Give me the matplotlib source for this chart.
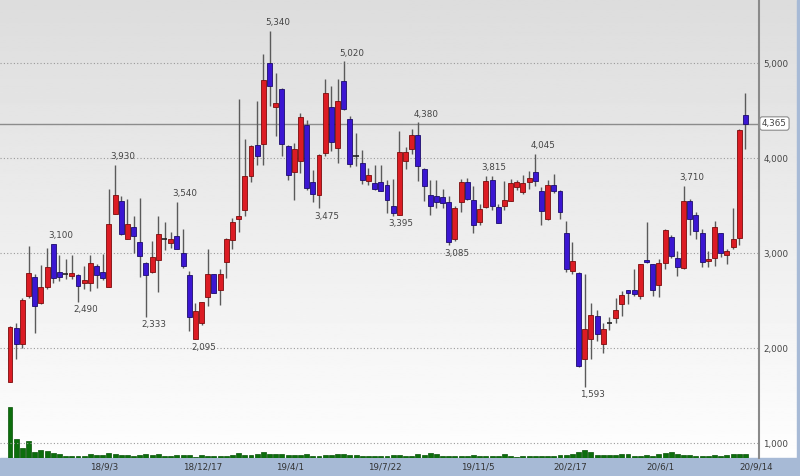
import matplotlib
matplotlib.use("Agg")
import matplotlib.pyplot as plt
from matplotlib.patches import Rectangle
import numpy as np

# weekly OHLC (oldest first)
opens = [1646, 2217, 2050, 2549, 2753, 2473, 2648, 3100, 2801, 2785,
         2764, 2774, 2690, 2690, 2864, 2806, 2648, 3418, 3547, 3152,
         3271, 3121, 2900, 2801, 2932, 3145, 3103, 3180, 2998, 2774,
         2095, 2270, 2543, 2777, 2612, 2910, 3134, 3355, 3460, 3810,
         4142, 4149, 5000, 4544, 4727, 4132, 3851, 3967, 4352, 3754,
         3610, 4055, 4538, 4108, 4814, 4415, 4020, 3950, 3757, 3740,
         3750, 3715, 3494, 3400, 3967, 4100, 4240, 3890, 3614, 3600,
         3589, 3540, 3145, 3540, 3746, 3565, 3330, 3488, 3775, 3484,
         3502, 3554, 3694, 3646, 3746, 3856, 3659, 3355, 3715, 3652,
         3208, 2812, 2795, 1885, 2095, 2340, 2042, 2263, 2315, 2462,
         2609, 2612, 2549, 2925, 2882, 2662, 2893, 3173, 2953, 2848,
         3554, 3407, 3215, 2917, 2953, 3208, 2977, 3064, 3163, 4457]
highs = [2230, 2270, 2532, 3080, 2785, 2872, 3060, 3100, 2977, 2942,
         2984, 2785, 2864, 2984, 2882, 2990, 3677, 3930, 3600, 3575,
         3397, 3583, 2905, 3131, 3390, 3330, 3221, 3540, 3250, 2812,
         2480, 2490, 3040, 2780, 2830, 3160, 3372, 4625, 4202, 4140,
         4604, 5094, 5340, 4895, 4735, 4140, 4160, 4475, 4405, 3872,
         4048, 4832, 4762, 4835, 5020, 4440, 4265, 4082, 3897, 3925,
         3925, 3775, 3782, 4282, 4118, 4307, 4380, 3895, 3775, 3767,
         3677, 3607, 3494, 3782, 3792, 3712, 3520, 3815, 3809, 3520,
         3757, 3782, 3775, 3820, 3862, 4045, 3698, 3775, 3835, 3662,
         3344, 3120, 2800, 2777, 2480, 2400, 2270, 2333, 2532, 2602,
         2615, 2830, 2890, 3326, 2890, 2935, 3250, 3187, 3022, 3710,
         3575, 3436, 3257, 3022, 3337, 3215, 3047, 3478, 4310, 4691]
lows = [1640, 1892, 2000, 2530, 2165, 2462, 2620, 2690, 2707, 2725,
        2725, 2490, 2620, 2602, 2638, 2717, 2640, 3410, 3197, 3145,
        3005, 2753, 2333, 2790, 2596, 3029, 3057, 3040, 2848, 2182,
        2095, 2242, 2444, 2578, 2455, 2743, 3040, 3226, 3389, 3746,
        3932, 3932, 4552, 4229, 4027, 3775, 3565, 3845, 3670, 3536,
        3475, 4020, 4072, 3950, 4510, 3904, 3915, 3733, 3722, 3662,
        3652, 3425, 3395, 3400, 3887, 4045, 3757, 3547, 3407, 3478,
        3478, 3085, 3127, 3431, 3565, 3215, 3302, 3478, 3460, 3313,
        3452, 3547, 3670, 3628, 3680, 3705, 3292, 3347, 3635, 3362,
        2801, 2777, 1800, 1593, 1885, 2077, 1948, 2192, 2263, 2340,
        2462, 2549, 2522, 2900, 2549, 2539, 2830, 2953, 2759, 2830,
        3197, 3152, 2854, 2854, 2864, 2963, 2890, 3047, 3082, 4097]
closes = [2224, 2050, 2504, 2791, 2448, 2648, 2854, 2738, 2749, 2785,
          2791, 2654, 2714, 2900, 2770, 2743, 3305, 3617, 3204, 3305,
          3180, 2974, 2774, 2963, 3204, 3145, 3152, 3047, 2864, 2329,
          2392, 2486, 2777, 2585, 2777, 3152, 3330, 3389, 3817, 4132,
          4019, 4825, 4762, 4586, 4149, 3820, 4097, 4433, 3688, 3628,
          4030, 4685, 4170, 4604, 4517, 3940, 4020, 3775, 3820, 3677,
          3659, 3565, 3425, 4061, 4061, 4240, 3922, 3704, 3502, 3536,
          3530, 3116, 3478, 3746, 3572, 3292, 3470, 3757, 3494, 3320,
          3557, 3740, 3750, 3740, 3793, 3764, 3449, 3715, 3659, 3436,
          2830, 2917, 1808, 2200, 2350, 2147, 2200, 2263, 2399, 2557,
          2578, 2567, 2882, 2910, 2609, 2893, 3242, 2970, 2858, 3554,
          3365, 3232, 2906, 2942, 3278, 2998, 3022, 3152, 4300, 4365]
volume = [507, 190, 97, 173, 57, 80, 73, 47, 40, 17,
          17, 17, 17, 37, 27, 30, 53, 37, 30, 27,
          20, 33, 37, 27, 37, 20, 20, 27, 30, 27,
          13, 33, 23, 23, 23, 23, 27, 53, 33, 27,
          37, 63, 43, 40, 37, 27, 30, 27, 37, 20,
          20, 27, 27, 43, 40, 33, 30, 23, 23, 20,
          20, 20, 27, 27, 20, 20, 43, 27, 50, 37,
          20, 23, 20, 20, 17, 27, 23, 23, 23, 23,
          43, 23, 10, 17, 17, 23, 20, 23, 23, 30,
          27, 40, 57, 80, 57, 30, 27, 27, 30, 37,
          37, 20, 23, 27, 23, 37, 50, 57, 40, 27,
          33, 23, 20, 23, 27, 20, 30, 37, 43, 43]

date_labels = ["18/9/3", "18/12/17", "19/4/1", "19/7/22",
               "19/11/5", "20/2/17", "20/6/1", "20/9/14"]
date_pos = [13, 28, 43, 58, 73, 88, 103, 118]

price_ticks = [1000, 2000, 3000, 4000, 5000]
hi_marks = [7, 17, 27, 42, 54, 66, 77, 85, 109]
lo_marks = [11, 22, 30, 50, 62, 71, 93]
last_price = 4365

n = len(opens)
x = np.arange(n)
o = np.array(opens); h = np.array(highs); l = np.array(lows); c = np.array(closes)

W, H = 800, 476
fig = plt.figure(figsize=(W / 100, H / 100), dpi=100)

# background gradient
bg = fig.add_axes([0, 0, 1, 1])
grad = np.linspace(0.865, 1.0, 256).reshape(-1, 1)
bg.imshow(grad, cmap="gray", vmin=0, vmax=1, aspect="auto", extent=[0, 1, 0, 1])
bg.add_patch(Rectangle((0, 0), 1, 18 / H, color="#a7bad6", zorder=3))
bg.add_patch(Rectangle((797 / W, 0), 3 / W, 1, color="#a7bad6", zorder=3))
bg.set_xlim(0, 1); bg.set_ylim(0, 1)
bg.axis("off")

ax = fig.add_axes([0, 18 / H, 759 / W, 458 / H])
ax.patch.set_alpha(0)
ax.set_xlim(-1.62, 121.2)
ax.set_ylim(845, 5665)

for t in price_ticks:
    ax.axhline(t, color="#9a9a9a", lw=0.8, ls=(0, (1, 2)), zorder=1)
ax.axhline(last_price, color="#8c8c8c", lw=1, zorder=1, clip_on=False)

# volume on twin axis
ax2 = ax.twinx()
ax2.set_ylim(0, 4580)
ax2.bar(x, volume, width=0.8, color="#0c6e0c", edgecolor="#075207", lw=0.5, zorder=2)
ax2.set_yticks([])
for s in ax2.spines.values():
    s.set_visible(False)

# candles
ax.vlines(x, l, h, color="#5a5a5a", lw=1, zorder=3)
up = c > o
dn = c < o
eq = c == o
ax.bar(x[up], (c - o)[up], bottom=o[up], width=0.8, color="#dc1c24",
       edgecolor="#7a0c0c", lw=0.6, zorder=4)
ax.bar(x[dn], (o - c)[dn], bottom=c[dn], width=0.8, color="#3b16d2",
       edgecolor="#1c0c6c", lw=0.6, zorder=4)
ax.hlines(c[eq], x[eq] - 0.45, x[eq] + 0.45, color="#222222", lw=1.2, zorder=4)
for a in (ax, ax2):
    a.set_zorder(5 if a is ax else 4)

# high / low labels
for i in hi_marks:
    ax.annotate(f"{h[i]:,}", (x[i], h[i]), xytext=(8, 8), textcoords="offset pixels",
                ha="center", va="center", fontsize=6.3, color="#444444", zorder=6)
for i in lo_marks:
    ax.annotate(f"{l[i]:,}", (x[i], l[i]), xytext=(8, -8), textcoords="offset pixels",
                ha="center", va="center", fontsize=6.3, color="#444444", zorder=6)

# axes decoration
ax.yaxis.tick_right()
ax.set_yticks(price_ticks)
ax.set_yticklabels([f"{t:,}" for t in price_ticks])
ax.tick_params(axis="y", length=0, pad=3, labelsize=6.3, labelcolor="#444444")
ax.set_xticks(date_pos)
ax.set_xticklabels(date_labels, ha="left")
ax.tick_params(axis="x", length=0, pad=3, labelsize=6.3, labelcolor="#333333")
for name, s in ax.spines.items():
    s.set_visible(name == "right")
ax.spines["right"].set_color("#8a8a8a")
ax.spines["right"].set_linewidth(1.5)

ax.annotate(f"{last_price:,}", (1.0, last_price), xycoords=("axes fraction", "data"),
            xytext=(3, 0), textcoords="offset pixels", ha="left", va="center",
            fontsize=6.3, color="#444444", annotation_clip=False,
            bbox=dict(boxstyle="round,pad=0.25,rounding_size=0.3", fc="white",
                      ec="#8a8a8a", lw=0.8))

fig.savefig("out.png", dpi=100)
